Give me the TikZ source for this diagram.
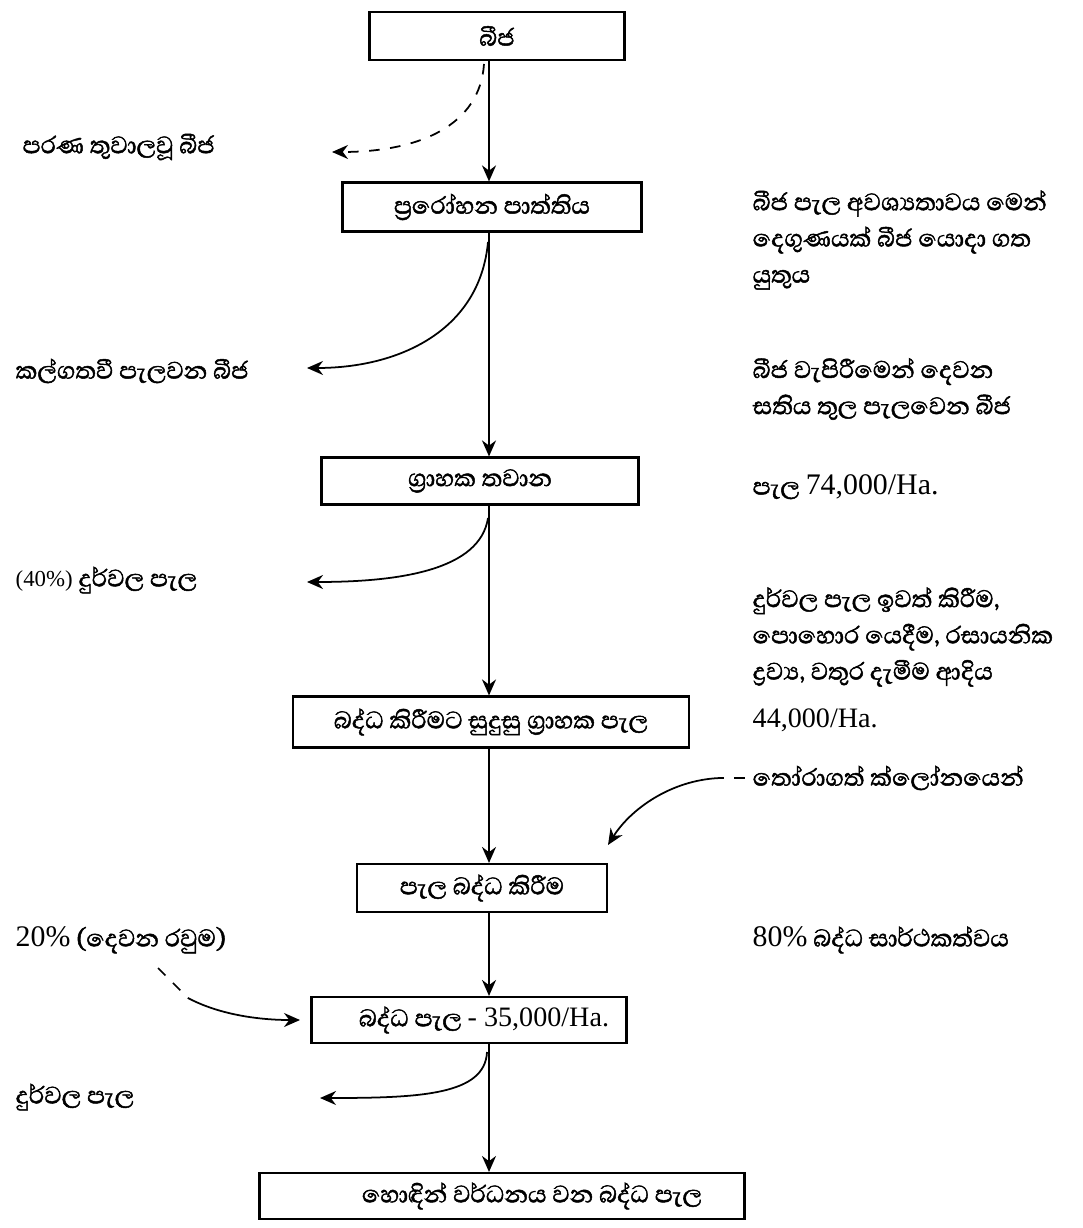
\documentclass[tikz,border=0pt]{standalone}
\usepackage{fontspec}
\setmainfont{Liberation Serif}
\newfontfamily\sinhala[Script=Sinhala,FakeBold=1.6]{Abhaya Libre}
\usetikzlibrary{arrows.meta,positioning}

\begin{document}
\begin{tikzpicture}[
  stepbox/.style={draw,line width=0.6pt,minimum height=0.48cm,inner sep=1pt,
    font=\sinhala\fontsize{8.7}{10}\selectfont},
  note/.style={anchor=west,align=left,inner sep=0pt,
    font=\sinhala\fontsize{8.7}{10.3}\selectfont},
  num/.style={font=\rmfamily\fontsize{8}{10}\selectfont},
  arr/.style={-{Stealth[length=1.6mm,width=1.4mm]},line width=0.6pt},
  side/.style={-{Stealth[length=1.6mm,width=1.4mm]},line width=0.5pt}
]
  \useasboundingbox (0,0) rectangle (10.82,-12.28);

  % Main column
  \node[stepbox,minimum width=2.55cm] (seed) at (4.97,-0.36) {බීජ};
  \node[stepbox,minimum width=2.99cm,minimum height=0.49cm] (bed) at (4.92,-2.07) {ප්‍රරෝහන පාත්තිය};
  \node[stepbox,minimum width=3.17cm,minimum height=0.47cm] (nursery) at (4.80,-4.81) {ග්‍රාහක තවාන};
  \node[stepbox,minimum width=3.96cm,minimum height=0.51cm] (stock) at (4.91,-7.22) {බද්ධ කිරීමට සුදුසු ග්‍රාහක පැල};
  \node[stepbox,minimum width=2.50cm] (graft) at (4.82,-8.88) {පැල බද්ධ කිරීම};
  \node[stepbox,minimum width=3.15cm,minimum height=0.46cm] (grafted) at (4.69,-10.20) {\hspace*{0.3cm}බද්ධ පැල {\rmfamily\fontsize{8}{10}\selectfont - 35,000/Ha.}};
  \node[stepbox,minimum width=4.85cm,minimum height=0.46cm] (good) at (5.02,-11.96) {\hspace*{0.6cm}හොඳින් වර්ධනය වන බද්ධ පැල};

  % Losses on the left
  \node[note] (oldseed) at (0.22,-1.47) {පරණ තුවාලවූ බීජ};
  \node[note] (lateseed) at (0.15,-3.71) {කල්ගතවී පැලවන බීජ};
  \node[note] (weak1) at (0.15,-5.80) {{\rmfamily\fontsize{6.5}{8}\selectfont (40\%)} දුර්වල පැල};
  \node[note] (second) at (0.15,-9.40) {{\rmfamily\fontsize{8.5}{10}\selectfont 20\%} (දෙවන රවුම)};
  \node[note] (weak2) at (0.15,-10.97) {දුර්වල පැල};

  % Notes on the right
  \node[note] (need) at (7.52,-2.40) {බීජ පැල අවශ්‍යතාවය මෙන්\\දෙගුණයක් බීජ යොදා ගත\\යුතුය};
  \node[note] (week) at (7.52,-3.89) {බීජ වැපිරීමෙන් දෙවන\\සතිය තුල පැලවෙන බීජ};
  \node[note] (count1) at (7.52,-4.87) {පැල {\rmfamily\fontsize{8.5}{10}\selectfont 74,000/Ha.}};
  \node[note] (care) at (7.52,-6.37) {දුර්වල පැල ඉවත් කිරීම,\\පොහොර යෙදීම, රසායනික\\ද්‍රව්‍ය, වතුර දැමීම ආදිය};
  \node[note,num] (count2) at (7.52,-7.20) {44,000/Ha.};
  \node[note] (clone) at (7.52,-7.78) {තෝරාගත් ක්ලෝනයෙන්};
  \node[note] (rate) at (7.52,-9.40) {{\rmfamily\fontsize{8.5}{10}\selectfont 80\%} බද්ධ සාර්ථකත්වය};

  % Main arrows
  \coordinate (axis) at (4.89,0);
  \draw[arr] (seed.south -| axis) -- (bed.north -| axis);
  \draw[arr] (bed.south -| axis) -- (nursery.north -| axis);
  \draw[arr] (nursery.south -| axis) -- (stock.north -| axis);
  \draw[arr] (stock.south -| axis) -- (graft.north -| axis);
  \draw[arr] (graft.south -| axis) -- (grafted.north -| axis);
  \draw[arr] (grafted.south -| axis) -- (good.north -| axis);

  % Side arrows
  \coordinate (s1) at (4.84,-0.64);  \coordinate (t1) at (3.32,-1.52);
  \coordinate (s2) at (4.88,-2.42);  \coordinate (t2) at (3.07,-3.68);
  \coordinate (s3) at (4.88,-5.18);  \coordinate (t3) at (3.07,-5.82);
  \coordinate (k1) at (7.20,-7.78);  \coordinate (t4) at (6.08,-8.45);
  \coordinate (m0) at (1.58,-9.68);  \coordinate (m1) at (1.88,-9.98);
  \coordinate (t5) at (3.00,-10.20);
  \coordinate (s6) at (4.87,-10.52); \coordinate (t6) at (3.20,-10.98);
  \draw[side,dashed] (s1) .. controls (4.80,-1.25) and (4.20,-1.52) .. (t1);
  \draw[side] (s2) .. controls (4.80,-3.30) and (4.00,-3.68) .. (t2);
  \draw[side] (s3) .. controls (4.80,-5.70) and (4.00,-5.82) .. (t3);
  \draw[dashed,line width=0.5pt,shorten <=2pt] (clone.west) -- (k1);
  \draw[side] (k1) .. controls (6.70,-7.80) and (6.30,-8.10) .. (t4);
  \draw[dashed,line width=0.5pt] (m0) -- (m1);
  \draw[side] (m1) .. controls (2.20,-10.15) and (2.60,-10.20) .. (t5);
  \draw[side] (s6) .. controls (4.85,-10.95) and (4.20,-10.98) .. (t6);
\end{tikzpicture}
\end{document}
